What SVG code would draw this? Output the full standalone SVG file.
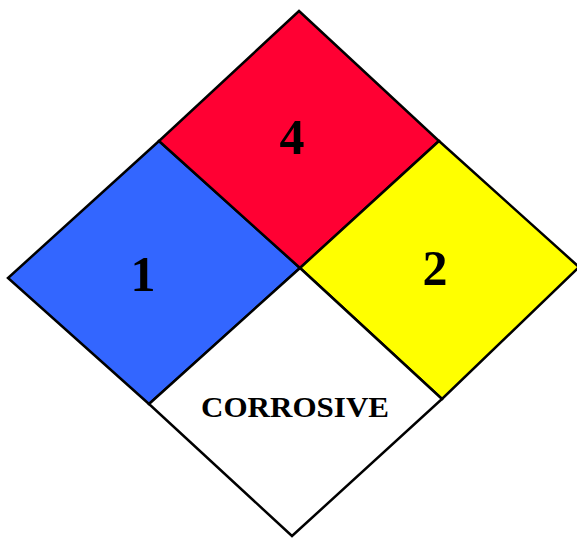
<svg xmlns="http://www.w3.org/2000/svg" width="577" height="538" viewBox="0 0 577 538">
<style>
.q{stroke:#000;stroke-width:2.5;stroke-linejoin:miter}
.n{font-family:"Liberation Serif","Times New Roman",serif;font-weight:bold;fill:#000;text-anchor:middle}
</style>
<rect width="577" height="538" fill="#fff"/>
<g id="health">
<polygon class="q" fill="#3366ff" points="159,141 300,268 149,404 8,278"/>
<text class="n" x="143" y="291" font-size="50">1</text>
</g>
<g id="flammability">
<polygon class="q" fill="#ff0033" points="299,11 439,141 300,268 159,141"/>
<text class="n" x="292" y="154" font-size="50">4</text>
</g>
<g id="reactivity">
<polygon class="q" fill="#ffff00" points="439,141 579,267 442,399 300,268"/>
<text class="n" x="435" y="285" font-size="50">2</text>
</g>
<g id="special">
<polygon class="q" fill="#ffffff" points="300,268 442,399 292,536 149,404"/>
<text class="n" x="295" y="417" font-size="30" textLength="188" lengthAdjust="spacingAndGlyphs">CORROSIVE</text>
</g>
<g id="connectors"></g>
</svg>
